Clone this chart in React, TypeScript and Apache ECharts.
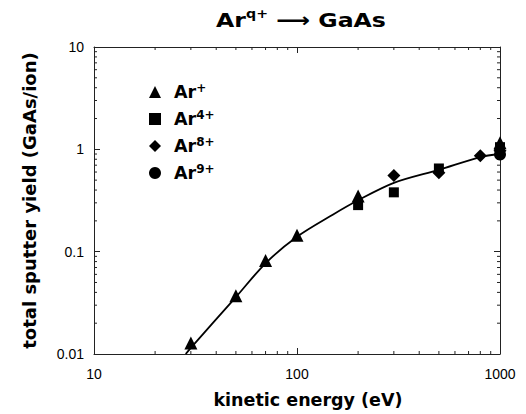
import React, { useEffect, useRef } from "react";
import * as echarts from "echarts";

const xMin = 10;
const xMax = 1000;
const yMin = 0.01;
const yMax = 10;

const ar1X = [30, 50, 70, 100, 200, 1000];
const ar1Y = [0.0128, 0.037, 0.082, 0.145, 0.35, 1.16];
const ar4X = [200, 300, 500, 1000];
const ar4Y = [0.285, 0.38, 0.65, 1.05];
const ar8X = [300, 500, 800, 1000];
const ar8Y = [0.555, 0.59, 0.865, 0.97];
const ar9X = [1000];
const ar9Y = [0.89];

const curveX = [28.3, 30, 50, 70, 100, 150, 200, 300, 500, 800, 1000];
const curveY = [0.01, 0.0115, 0.036, 0.077, 0.14, 0.23, 0.318, 0.47, 0.63, 0.84, 0.9];

const seriesNames = ["Ar+", "Ar4+", "Ar8+", "Ar9+"];
const seriesSups = ["+", "4+", "8+", "9+"];
const seriesSymbols = ["triangle", "rect", "diamond", "circle"];
const seriesSizes = [13, 10, 13, 12];

const xMinorTicks = [20, 30, 40, 50, 60, 70, 80, 90, 200, 300, 400, 500, 600, 700, 800, 900];
const yMinorTicks = [
  0.02, 0.03, 0.04, 0.05, 0.06, 0.07, 0.08, 0.09,
  0.2, 0.3, 0.4, 0.5, 0.6, 0.7, 0.8, 0.9,
  2, 3, 4, 5, 6, 7, 8, 9,
];

const FONT = "'Liberation Sans', Arial, Helvetica, sans-serif";
const BOLD = "'DejaVu Sans', 'Liberation Sans', sans-serif";

function zip(xs: number[], ys: number[]) {
  return xs.map((x, i) => [x, ys[i]]);
}

export default function App() {
  const ref = useRef<HTMLDivElement>(null);
  useEffect(() => {
    if (!ref.current) return;
    const chart = echarts.init(ref.current, null, { renderer: "svg" });

    const axisCommon = {
      type: "log" as const,
      logBase: 10,
      axisLine: { show: true, lineStyle: { color: "#222", width: 1 } },
      splitLine: { show: false },
      axisTick: { show: true, inside: true, length: 6, lineStyle: { color: "#222" } },
    };

    const minorData: number[][] = [
      ...xMinorTicks.map((v) => [v, 1, 0]),
      ...yMinorTicks.map((v) => [10, v, 1]),
    ];

    const scatterSeries = seriesNames.map((name, i) => ({
      name,
      type: "scatter",
      symbol: seriesSymbols[i],
      symbolSize: seriesSizes[i],
      itemStyle: { color: "#000", opacity: 1 },
      data: zip([ar1X, ar4X, ar8X, ar9X][i], [ar1Y, ar4Y, ar8Y, ar9Y][i]),
      z: 3,
    }));

    chart.setOption({
      animation: false,
      graphic: [
        {
          type: "text",
          x: 301,
          y: 20,
          scaleX: 1.18,
          style: {
            text: "{b|Ar}{s|q+}{b| ⟶ GaAs}",
            textAlign: "center",
            textVerticalAlign: "middle",
            rich: {
              b: { fontFamily: BOLD, fontSize: 20, fontWeight: "bold", fill: "#000", lineHeight: 24 },
              s: { fontFamily: BOLD, fontSize: 12, fontWeight: "bold", fill: "#000", lineHeight: 14, verticalAlign: "top" },
            },
          },
        },
      ],
      grid: { left: 94, right: 26, top: 47, bottom: 57 },
      legend: {
        show: true,
        orient: "vertical",
        left: 149,
        top: 82,
        padding: 0,
        itemWidth: 12,
        itemHeight: 12,
        itemGap: 8,
        data: seriesNames,
        itemStyle: { opacity: 1 },
        formatter: (name: string) => {
          const i = seriesNames.indexOf(name);
          return "{b|Ar}{s|" + seriesSups[i] + "}";
        },
        textStyle: {
          rich: {
            b: { fontFamily: BOLD, fontSize: 17.5, fontWeight: "bold", color: "#000", lineHeight: 20, padding: [0, 0, 0, 8] },
            s: { fontFamily: BOLD, fontSize: 12, fontWeight: "bold", color: "#000", lineHeight: 12, verticalAlign: "top" },
          },
        },
      },
      xAxis: [
        {
          ...axisCommon,
          min: xMin,
          max: xMax,
          position: "bottom",
          name: "kinetic energy (eV)",
          nameLocation: "middle",
          nameGap: 37,
          nameTextStyle: { fontFamily: BOLD, fontSize: 17.5, fontWeight: "bold", color: "#000", padding: [0, 0, 0, 22] },
          axisLabel: {
            show: true,
            fontFamily: FONT,
            fontSize: 14,
            color: "#000",
            margin: 13,
            formatter: (v: number) => String(v),
          },
        },
        {
          ...axisCommon,
          min: xMin,
          max: xMax,
          position: "top",
          axisLabel: { show: false },
        },
      ],
      yAxis: [
        {
          ...axisCommon,
          min: yMin,
          max: yMax,
          position: "left",
          name: "total sputter yield (GaAs/ion)",
          nameLocation: "middle",
          nameGap: 56,
          nameTextStyle: { fontFamily: BOLD, fontSize: 18, fontWeight: "bold", color: "#000" },
          axisLabel: {
            show: true,
            fontFamily: FONT,
            fontSize: 14,
            color: "#000",
            margin: 10,
            formatter: (v: number) => String(v),
          },
        },
        {
          ...axisCommon,
          min: yMin,
          max: yMax,
          position: "right",
          axisLabel: { show: false },
        },
      ],
      series: [
        {
          type: "line",
          name: "fit",
          data: zip(curveX, curveY),
          smooth: 0.3,
          symbol: "none",
          lineStyle: { color: "#000", width: 1.8 },
          z: 2,
          silent: true,
        },
        ...scatterSeries,
        {
          type: "custom",
          name: "minorTicks",
          silent: true,
          clip: false,
          data: minorData,
          renderItem: (params: any, api: any) => {
            const v0 = api.value(0);
            const v1 = api.value(1);
            const kind = api.value(2);
            const bl = api.coord([xMin, yMin]);
            const tr = api.coord([xMax, yMax]);
            const len = 3;
            const style = { stroke: "#222", lineWidth: 1 };
            if (kind === 0) {
              const p = api.coord([v0, 1]);
              return {
                type: "group",
                children: [
                  { type: "line", shape: { x1: p[0], y1: bl[1], x2: p[0], y2: bl[1] - len }, style },
                  { type: "line", shape: { x1: p[0], y1: tr[1], x2: p[0], y2: tr[1] + len }, style },
                ],
              };
            }
            const p = api.coord([10, v1]);
            return {
              type: "group",
              children: [
                { type: "line", shape: { x1: bl[0], y1: p[1], x2: bl[0] + len, y2: p[1] }, style },
                { type: "line", shape: { x1: tr[0], y1: p[1], x2: tr[0] - len, y2: p[1] }, style },
              ],
            };
          },
          z: 1,
        },
      ],
    });
    return () => chart.dispose();
  }, []);
  return (
    <div
      ref={ref}
      style={{ position: "fixed", left: 0, top: 0, width: 526, height: 414, background: "#fff" }}
    />
  );
}
